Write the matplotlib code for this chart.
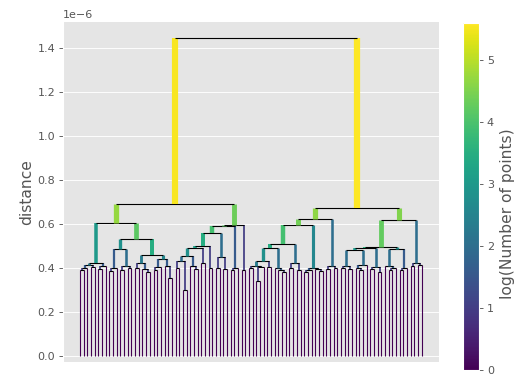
import numpy as np
import matplotlib
matplotlib.use("Agg")
import matplotlib.pyplot as plt

plt.style.use("ggplot")

# Single linkage tree: a node is (merge distance in 1e-6, left, right), a point is 0.

# left half of the tree
L1a = (0.424, (0.412, (0.398, (0.390, 0, 0), 0), (0.405, 0, 0)), (0.410, (0.395, 0, 0), 0))
L1b_left = (0.487, (0.398, (0.385, 0, 0), 0), (0.407, (0.392, 0, 0), (0.400, 0, 0)))
L1b_right = (0.460, (0.420, (0.400, 0, 0), (0.395, 0, (0.380, 0, 0))),
             (0.440, (0.405, (0.390, 0, 0), 0), (0.410, 0, (0.355, 0, 0))))
L1 = (0.605, L1a, (0.532, L1b_left, L1b_right))

L2_base = (0.490, (0.455, (0.430, (0.400, 0, 0), (0.300, 0, 0)), (0.410, 0, (0.395, 0, 0))),
           (0.420, 0, 0))
L2 = (0.597,
      (0.588,
       (0.558,
        (0.500, L2_base, (0.400, 0, 0)),
        (0.448, (0.400, 0, 0), (0.395, 0, 0))),
       (0.400, (0.390, 0, 0), 0)),
      (0.390, 0, 0))

# right half of the tree
R1_base = (0.433, (0.410, (0.400, 0, 0), (0.405, (0.342, 0, 0), 0)), (0.405, 0, 0))
R1_chain = (0.509,
            (0.491, R1_base, (0.400, 0, (0.390, 0, (0.380, 0, 0)))),
            (0.420, (0.400, 0, 0), (0.390, 0, 0)))
R1a = (0.596, R1_chain, (0.400, (0.390, (0.380, 0, 0), 0), (0.395, 0, (0.385, 0, 0))))
R1 = (0.623, R1a, (0.410, (0.395, 0, 0), (0.400, 0, 0)))

K1 = (0.410, (0.400, 0, 0), (0.395, 0, 0))
K2 = (0.415, (0.400, 0, (0.390, 0, 0)), 0)
K3 = (0.405, (0.395, 0, 0), (0.380, 0, 0))
K4 = (0.410, 0, (0.400, (0.390, 0, 0), 0))
K5 = (0.400, (0.390, 0, 0), 0)
R2a = (0.495, (0.490, (0.482, K1, K2), K3), (0.487, K4, K5))
R2 = (0.616, R2a, (0.420, (0.410, 0, 0), (0.415, 0, 0)))

root = (1.445, (0.689, L1, L2), (0.673, R1, R2))


def layout(node, links, counter):
    # leaves sit at 5, 15, 25, ... like scipy's dendrogram
    if not isinstance(node, tuple):
        x = 5.0 + 10.0 * counter[0]
        counter[0] += 1
        return x, 0.0, 1
    h, a, b = node
    xa, ha, na = layout(a, links, counter)
    xb, hb, nb = layout(b, links, counter)
    links.append(([xa, xa, xb, xb], [ha, h, h, hb], (na, nb)))
    return (xa + xb) / 2.0, h, na + nb


links = []
layout(root, links, [0])

sizes = np.array([s for _, _, s in links], dtype=float)
color_array = np.log2(sizes.flatten())
sm = plt.cm.ScalarMappable(cmap="viridis", norm=plt.Normalize(0, color_array.max()))
sm.set_array(color_array)

fig = plt.figure(figsize=(516 / 80, 379 / 80), dpi=80)
ax = fig.add_axes([62.9 / 516, 17.3 / 379, 376 / 516, 340 / 379])

for x, y, lw in links:
    y = np.array(y) * 1e-6
    ax.plot(x[:2], y[:2], color=sm.to_rgba(np.log2(lw[0])), linewidth=np.log2(1 + lw[0]),
            solid_joinstyle="miter", solid_capstyle="butt")
    ax.plot(x[2:], y[2:], color=sm.to_rgba(np.log2(lw[1])), linewidth=np.log2(1 + lw[1]),
            solid_joinstyle="miter", solid_capstyle="butt")
    ax.plot(x[1:3], y[1:3], color="k", linewidth=1.0,
            solid_joinstyle="miter", solid_capstyle="butt")

ax.set_ylim(-0.026e-6, 1.518e-6)
ax.set_xticks([])
for side in ("right", "top", "bottom"):
    ax.spines[side].set_visible(False)
ax.set_ylabel("distance", fontsize=14, labelpad=3)

cax = fig.add_axes([463.3 / 516, 9 / 379, 15.7 / 516, 346.7 / 379])
cb = fig.colorbar(sm, cax=cax)
cb.ax.set_ylabel("log(Number of points)", fontsize=14)
cb.ax.yaxis.set_label_coords(2.35, 0.45)

fig.savefig("out.png", dpi=80)
